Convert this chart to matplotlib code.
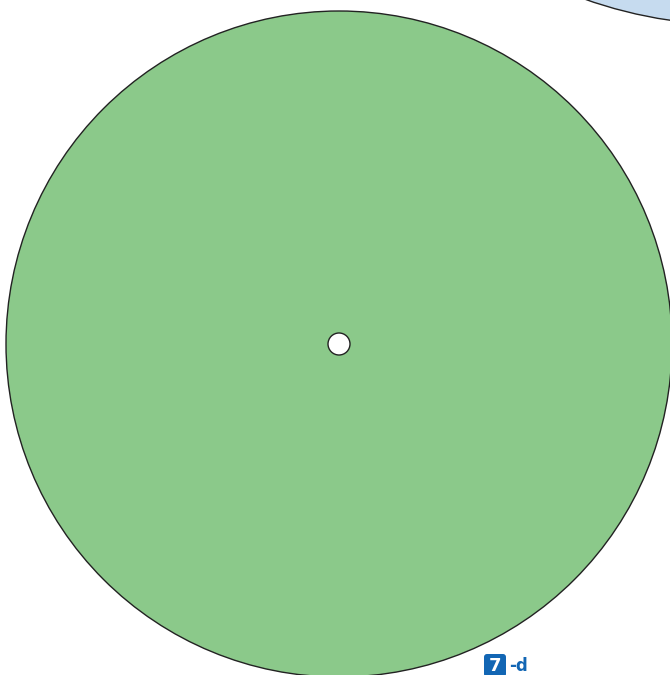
import matplotlib
matplotlib.use("Agg")
import matplotlib.pyplot as plt
from matplotlib.patches import Circle, FancyBboxPatch

# data: packed circles (name, value-radius in px, centre)
names = ["group", "leaf", "center"]
radii = [333, 450, 11]
centers_x = [339, 735, 339]
centers_y = [344, -425, 344]
fills = ["#8bc98a", "#c6dbef", "#ffffff"]
badge_number = "7"
badge_suffix = "-d"

fig = plt.figure(figsize=(6.70, 6.75), dpi=100)
ax = fig.add_axes([0, 0, 1, 1])
ax.set_xlim(0, 670)
ax.set_ylim(675, 0)
ax.set_aspect("equal")
ax.axis("off")

order = [1, 0, 2]
for i in order:
    ax.add_patch(Circle((centers_x[i], centers_y[i]), radii[i],
                        facecolor=fills[i], edgecolor="#222222", linewidth=1.0, zorder=2 + (i == 2)))

blue = "#1266b4"
ax.add_patch(FancyBboxPatch((484, 654), 22, 23, boxstyle="round,pad=0,rounding_size=3",
                            facecolor=blue, edgecolor="none", zorder=5))
ax.text(495, 666, badge_number, color="white", fontsize=13, fontweight="bold",
        ha="center", va="center", zorder=6)
ax.text(509, 666, badge_suffix, color=blue, fontsize=12, fontweight="bold",
        ha="left", va="center", zorder=6)

fig.savefig("out.png", dpi=100)
